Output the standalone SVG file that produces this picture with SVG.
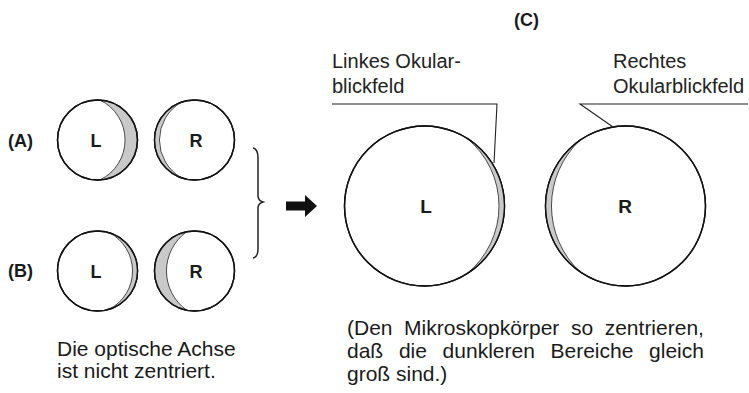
<svg xmlns="http://www.w3.org/2000/svg" width="749" height="393" viewBox="0 0 749 393">
<style>
.ring{fill:#fff;stroke:#111;stroke-width:1.4}
.rim{fill:none;stroke:#111;stroke-width:1.4}
.cres{fill:#c9c9c9;stroke:#222;stroke-width:0.8}
.lbl{font-family:"Liberation Sans",Arial,sans-serif;font-weight:bold;font-size:18px;fill:#1a1a1a}
.big{font-family:"Liberation Sans",Arial,sans-serif;font-weight:bold;font-size:19px;fill:#1a1a1a}
.txt{font-family:"Liberation Sans",Arial,sans-serif;font-size:20px;fill:#222}
.note{font-family:"Liberation Sans",Arial,sans-serif;font-size:21px;fill:#1a1a1a}
.line{fill:none;stroke:#222;stroke-width:1.1}
</style>
<rect width="749" height="393" fill="#fff"/>
<g id="labelA"><text class="lbl" x="8" y="147">(A)</text></g>
<g id="labelB"><text class="lbl" x="8" y="277">(B)</text></g>
<g id="labelC"><text class="lbl" x="514" y="26">(C)</text></g>

<g id="A-L">
<circle class="ring" cx="97.5" cy="140" r="40"/>
<path class="cres" d="M100,100.1 A40,40 0 0 1 100,179.9 A44.3,44.3 0 0 0 100,100.1 Z"/>
<circle class="rim" cx="97.5" cy="140" r="40"/>
<text class="lbl" x="96" y="147" text-anchor="middle">L</text>
</g>
<g id="A-R">
<circle class="ring" cx="194.5" cy="140" r="40"/>
<path class="cres" d="M181.7,102.1 A40,40 0 0 0 181.7,177.9 A43.4,43.4 0 0 1 181.7,102.1 Z"/>
<circle class="rim" cx="194.5" cy="140" r="40"/>
<text class="lbl" x="196" y="147" text-anchor="middle">R</text>
</g>
<g id="B-L">
<circle class="ring" cx="97.5" cy="271" r="40"/>
<path class="cres" d="M109.5,232.8 A40,40 0 0 1 109.5,309.2 A43.2,43.2 0 0 0 109.5,232.8 Z"/>
<circle class="rim" cx="97.5" cy="271" r="40"/>
<text class="lbl" x="96" y="278" text-anchor="middle">L</text>
</g>
<g id="B-R">
<circle class="ring" cx="194.5" cy="271" r="40"/>
<path class="cres" d="M186.7,231.8 A40,40 0 0 0 186.7,310.2 A48.1,48.1 0 0 1 186.7,231.8 Z"/>
<circle class="rim" cx="194.5" cy="271" r="40"/>
<text class="lbl" x="196" y="278" text-anchor="middle">R</text>
</g>

<g id="brace"><path class="line" style="stroke-width:1.5" d="M253,148 Q258,149 258,158 L258,196 Q258,200.5 263,202 Q258,203.5 258,208 L258,249 Q258,257 253,258"/></g>
<g id="arrow"><polygon points="286,201.5 305,201.5 305,195 317,206 305,217 305,210.5 286,210.5" fill="#111"/></g>

<g id="C-L">
<circle class="ring" cx="424.5" cy="206" r="80"/>
<path class="cres" d="M466.5,137.9 A80,80 0 0 1 466.5,274.1 A87.6,87.6 0 0 0 466.5,137.9 Z"/>
<circle class="rim" cx="424.5" cy="206" r="80"/>
<text class="big" x="426" y="213" text-anchor="middle">L</text>
</g>
<g id="C-R">
<circle class="ring" cx="625.5" cy="206" r="80"/>
<path class="cres" d="M580,140.2 A80,80 0 0 0 580,271.8 A90.2,90.2 0 0 1 580,140.2 Z"/>
<circle class="rim" cx="625.5" cy="206" r="80"/>
<text class="big" x="625" y="213" text-anchor="middle">R</text>
</g>

<g id="connectors">
<polyline class="line" points="332,104 497,104 494,163"/>
<polyline class="line" points="748,104 580,104 613,127"/>
</g>

<g id="callout-left">
<text class="txt" x="332" y="68">Linkes Okular-</text>
<text class="txt" x="332" y="93">blickfeld</text>
</g>
<g id="callout-right">
<text class="txt" x="613" y="68">Rechtes</text>
<text class="txt" x="613" y="93">Okularblickfeld</text>
</g>

<g id="note-left">
<text class="note" x="57" y="356">Die optische Achse</text>
<text class="note" x="57" y="378">ist nicht zentriert.</text>
</g>
<g id="note-right">
<text class="note" y="335"><tspan x="347">(Den</tspan><tspan x="404.1">Mikroskopkörper</tspan><tspan x="570.9">so</tspan><tspan x="604.7">zentrieren,</tspan></text>
<text class="note" y="358"><tspan x="347">daß</tspan><tspan x="398.9">die</tspan><tspan x="442.6">dunkleren</tspan><tspan x="550.5">Bereiche</tspan><tspan x="649.1">gleich</tspan></text>
<text class="note" x="347" y="381">groß sind.)</text>
</g>
</svg>
